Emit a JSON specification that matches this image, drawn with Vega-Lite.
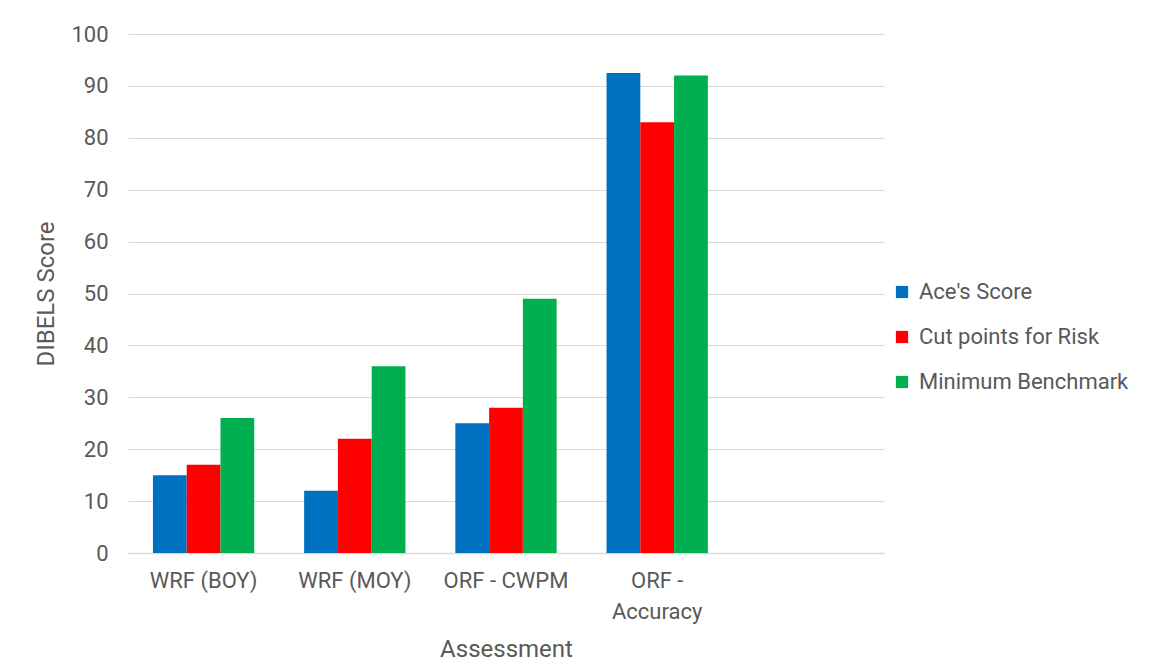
{
  "$schema": "https://vega.github.io/schema/vega-lite/v6.json",
  "autosize": {"type": "none"},
  "width": 756,
  "height": 519,
  "padding": {"left": 128, "top": 34, "right": 274, "bottom": 113},
  "background": "white",
  "config": {
    "font": "Roboto",
    "view": {"stroke": null},
    "axis": {"labelColor": "#595959", "titleColor": "#595959", "labelFont": "Roboto", "titleFont": "Roboto", "titleFontWeight": "normal"},
    "legend": {"labelColor": "#595959", "labelFont": "Roboto"}
  },
  "data": {
    "values": [
      {"assessment": "WRF (BOY)", "series": "Ace's Score", "score": 15},
      {"assessment": "WRF (BOY)", "series": "Cut points for Risk", "score": 17},
      {"assessment": "WRF (BOY)", "series": "Minimum Benchmark", "score": 26},
      {"assessment": "WRF (MOY)", "series": "Ace's Score", "score": 12},
      {"assessment": "WRF (MOY)", "series": "Cut points for Risk", "score": 22},
      {"assessment": "WRF (MOY)", "series": "Minimum Benchmark", "score": 36},
      {"assessment": "ORF - CWPM", "series": "Ace's Score", "score": 25},
      {"assessment": "ORF - CWPM", "series": "Cut points for Risk", "score": 28},
      {"assessment": "ORF - CWPM", "series": "Minimum Benchmark", "score": 49},
      {"assessment": "ORF - Accuracy", "series": "Ace's Score", "score": 92.5},
      {"assessment": "ORF - Accuracy", "series": "Cut points for Risk", "score": 83},
      {"assessment": "ORF - Accuracy", "series": "Minimum Benchmark", "score": 92}
    ]
  },
  "mark": {"type": "bar"},
  "encoding": {
    "x": {
      "field": "assessment",
      "type": "nominal",
      "scale": {"domain": ["WRF (BOY)", "WRF (MOY)", "ORF - CWPM", "ORF - Accuracy", " "], "paddingInner": 0.33, "paddingOuter": 0.165},
      "axis": {
        "title": "Assessment",
        "titleFontSize": 24,
        "titlePadding": 15,
        "labelFontSize": 22,
        "labelAngle": 0,
        "labelPadding": 17,
        "labelLimit": 200,
        "labelExpr": "datum.value == 'ORF - Accuracy' ? ['ORF -', 'Accuracy'] : datum.value",
        "labelLineHeight": 31,
        "ticks": false,
        "domain": true,
        "domainColor": "#d9d9d9",
        "domainWidth": 1.5,
        "grid": false
      }
    },
    "xOffset": {"field": "series", "type": "nominal", "scale": {"paddingInner": 0, "paddingOuter": 0}},
    "y": {
      "field": "score",
      "type": "quantitative",
      "scale": {"domain": [0, 100], "nice": false},
      "axis": {
        "title": "DIBELS Score",
        "titleFontSize": 24,
        "titlePadding": 12,
        "labelFontSize": 22,
        "labelPadding": 20,
        "values": [0, 10, 20, 30, 40, 50, 60, 70, 80, 90, 100],
        "ticks": false,
        "domain": false,
        "grid": true,
        "gridColor": "#d9d9d9",
        "gridWidth": 1.2
      }
    },
    "color": {
      "field": "series",
      "type": "nominal",
      "scale": {"domain": ["Ace's Score", "Cut points for Risk", "Minimum Benchmark"], "range": ["#0070C0", "#FF0000", "#00B050"]},
      "legend": {
        "title": null,
        "orient": "none",
        "legendX": 763,
        "legendY": 247,
        "symbolType": "square",
        "symbolSize": 150,
        "symbolStrokeWidth": 0,
        "labelFontSize": 22,
        "labelLimit": 300,
        "labelOffset": 6,
        "rowPadding": 23
      }
    }
  }
}
